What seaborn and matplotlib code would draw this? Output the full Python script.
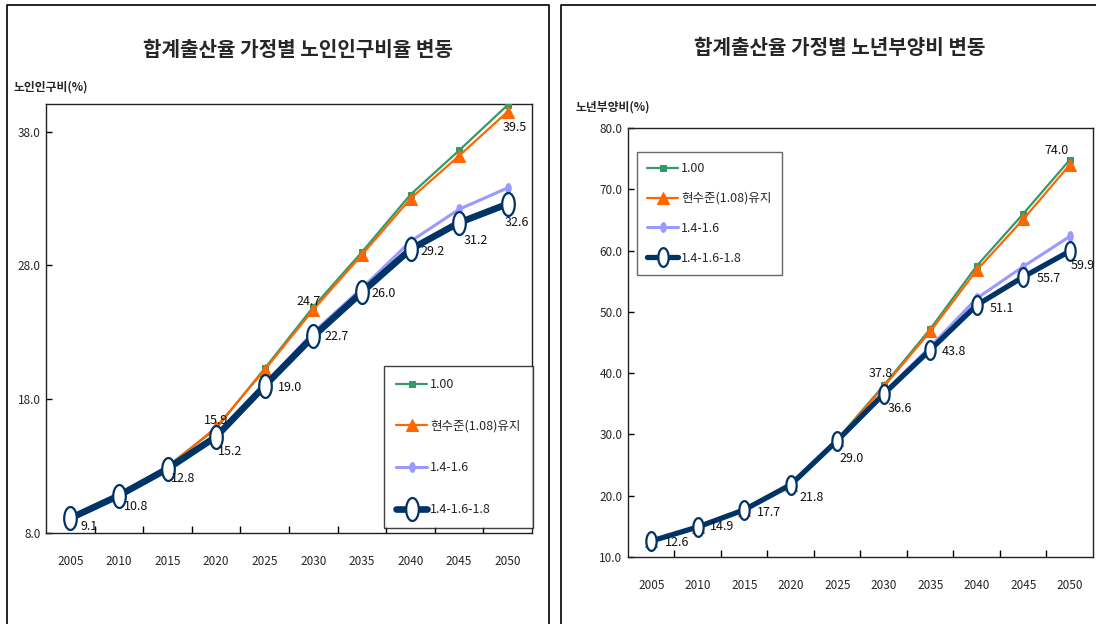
import numpy as np
import pandas as pd
import matplotlib
matplotlib.use("Agg")
import matplotlib.pyplot as plt
import seaborn as sns
from matplotlib import font_manager
from matplotlib.path import Path
from matplotlib.lines import Line2D

# ---- data -------------------------------------------------------------
years = [2005, 2010, 2015, 2020, 2025, 2030, 2035, 2040, 2045, 2050]
series_names = ["1.00", "현수준(1.08)유지", "1.4-1.6", "1.4-1.6-1.8"]

# 노인인구비율 (%)
elderly_100 = [9.1, 10.8, 13.0, 15.8, 20.3, 24.9, 29.0, 33.3, 36.6, 40.0]
elderly_108 = [9.1, 10.8, 12.9, 15.9, 20.2, 24.7, 28.8, 33.0, 36.2, 39.5]
elderly_1416 = [9.1, 10.8, 12.8, 15.2, 19.1, 23.0, 26.3, 29.8, 32.2, 33.8]
elderly_141618 = [9.1, 10.8, 12.8, 15.2, 19.0, 22.7, 26.0, 29.2, 31.2, 32.6]

# 노년부양비 (%)
support_100 = [12.6, 14.9, 17.7, 21.8, 29.2, 38.0, 47.2, 57.5, 66.0, 74.8]
support_108 = [12.6, 14.9, 17.7, 21.8, 29.1, 37.8, 46.8, 56.8, 65.1, 74.0]
support_1416 = [12.6, 14.9, 17.7, 21.8, 29.0, 36.8, 44.3, 52.2, 57.4, 62.3]
support_141618 = [12.6, 14.9, 17.7, 21.8, 29.0, 36.6, 43.8, 51.1, 55.7, 59.9]

left_yticks = [8.0, 18.0, 28.0, 38.0]
right_yticks = [10.0, 20.0, 30.0, 40.0, 50.0, 60.0, 70.0, 80.0]

# ---- style ------------------------------------------------------------
sns.set_theme(style="white")
installed = {f.name for f in font_manager.fontManager.ttflist}
families = ["Noto Sans CJK KR", "DejaVu Sans"]
num_families = (["Liberation Sans Narrow"] if "Liberation Sans Narrow" in installed else []) + families
plt.rcParams["font.family"] = families
plt.rcParams["axes.unicode_minus"] = False

GREEN, ORANGE, LIGHT, NAVY = "#339966", "#FF6600", "#9999FF", "#003366"

theta = np.linspace(0, 2 * np.pi, 60)
ellipse = Path(np.column_stack([0.55 * np.cos(theta), np.sin(theta)]), closed=True)

W, H = 1096, 624
fig = plt.figure(figsize=(W / 100, H / 100), dpi=100)
fig.patch.set_facecolor("white")


def fx(px):
    return px / W


def fy(py):
    return 1 - py / H


# panel frames
fig.add_artist(Line2D([fx(7), fx(7), fx(549), fx(549)], [-0.01, fy(5), fy(5), -0.01],
                      transform=fig.transFigure, color="black", lw=1.2))
fig.add_artist(Line2D([fx(561), fx(561), 1.01], [-0.01, fy(5), fy(5)],
                      transform=fig.transFigure, color="black", lw=1.2))


def draw_panel(ax, values, yticks, ylim, big, navy_offsets, orange_labels):
    styles = [
        dict(color=GREEN, lw=1.6, marker="s", ms=5, mfc=GREEN, mec=GREEN, zorder=3),
        dict(color=ORANGE, lw=1.6, marker="^", ms=9 if big else 8, mfc=ORANGE, mec=ORANGE, zorder=3),
        dict(color=LIGHT, lw=2.2, marker=ellipse, ms=7, mfc=LIGHT, mec=LIGHT, zorder=4),
        dict(color=NAVY, lw=4.8 if big else 3.8, marker=ellipse, ms=16.5 if big else 13.5,
             mfc="white", mec=NAVY, mew=1.6, zorder=5),
    ]
    for name, vals, st in zip(series_names, values, styles):
        df = pd.DataFrame({"year": years, "value": vals})
        sns.lineplot(data=df, x="year", y="value", ax=ax, label=name, **st)

    ax.set_xlim(years[0] - 2.5, years[-1] + 2.5)
    ax.set_ylim(*ylim)
    ax.set_xticks(years)
    ax.set_xticklabels([str(y) for y in years], family=num_families, fontsize=8.5)
    ax.set_xticks([y + 2.5 for y in years[:-1]], minor=True)
    ax.tick_params(axis="x", which="major", length=0, pad=16)
    ax.tick_params(axis="x", which="minor", direction="in", length=5, width=1, color="black", bottom=True)
    ax.set_yticks(yticks)
    ax.set_yticklabels([f"{t:.1f}" for t in yticks], family=num_families, fontsize=8.5)
    ax.tick_params(axis="y", direction="in", length=4, width=1, color="black", left=True, pad=4)
    ax.set_xlabel("")
    ax.set_ylabel("")
    for s in ax.spines.values():
        s.set_color("#222222")
        s.set_linewidth(1.0)

    navy = values[3]
    for yr, v, (dx, dy) in zip(years, navy, navy_offsets):
        ax.annotate(f"{v:.1f}", xy=(yr, v), xytext=(dx, -dy), textcoords="offset pixels",
                    ha="left", va="center", fontsize=9, family=num_families, color="#111111", zorder=6)
    orange = values[1]
    for idx, (dx, dy) in orange_labels.items():
        ax.annotate(f"{orange[idx]:.1f}", xy=(years[idx], orange[idx]), xytext=(dx, -dy),
                    textcoords="offset pixels", ha="center", va="center", fontsize=9,
                    family=num_families, color="#111111", zorder=6)


# ---- left: 노인인구비율 -------------------------------------------------
axL = fig.add_axes([fx(46), fy(533), fx(532 - 46), (533 - 104) / H])
draw_panel(
    axL,
    [elderly_100, elderly_108, elderly_1416, elderly_141618],
    left_yticks, (8.0, 40.07), True,
    [(10, 8), (5, 11), (3, 10), (2, 15), (13, 2), (11, 0), (10, 1), (10, 2), (5, 18), (-3, 19)],
    {3: (0, -7), 5: (-5, -8), 9: (7, 16)},
)
legL = axL.legend(loc="upper left", bbox_to_anchor=(fx(384), fy(366)), bbox_transform=fig.transFigure,
                  fontsize=9, frameon=True, fancybox=False, borderpad=0.95, labelspacing=2.3,
                  handlelength=2.5, handletextpad=0.25, borderaxespad=0)
legL.get_frame().set_edgecolor("#111111")
legL.get_frame().set_linewidth(1.0)

fig.text(fx(298), fy(49), "합계출산율 가정별 노인인구비율 변동", ha="center", va="center",
         fontsize=14.5, fontweight="bold")
fig.text(fx(14), fy(87), "노인인구비(%)", ha="left", va="center", fontsize=8.5, fontweight="bold")

# ---- right: 노년부양비 --------------------------------------------------
axR = fig.add_axes([fx(628), fy(557), fx(1093 - 628), (557 - 128) / H])
draw_panel(
    axR,
    [support_100, support_108, support_1416, support_141618],
    right_yticks, (10.0, 80.0), False,
    [(14, 1), (12, 0), (13, 3), (9, 13), (2, 18), (4, 15), (12, 2), (13, 3), (13, 2), (1, 14)],
    {5: (-3, -13), 9: (-13, -14)},
)
legR = axR.legend(loc="upper left", bbox_to_anchor=(fx(637), fy(152)), bbox_transform=fig.transFigure,
                  fontsize=9, frameon=True, fancybox=False, borderpad=0.8, labelspacing=1.35,
                  handlelength=2.5, handletextpad=0.25, borderaxespad=0)
legR.get_frame().set_edgecolor("#444444")
legR.get_frame().set_linewidth(1.0)

fig.text(fx(840), fy(47), "합계출산율 가정별 노년부양비 변동", ha="center", va="center",
         fontsize=14.5, fontweight="bold")
fig.text(fx(576), fy(107), "노년부양비(%)", ha="left", va="center", fontsize=8.5, fontweight="bold")

fig.savefig("out.png", dpi=100, facecolor="white")
